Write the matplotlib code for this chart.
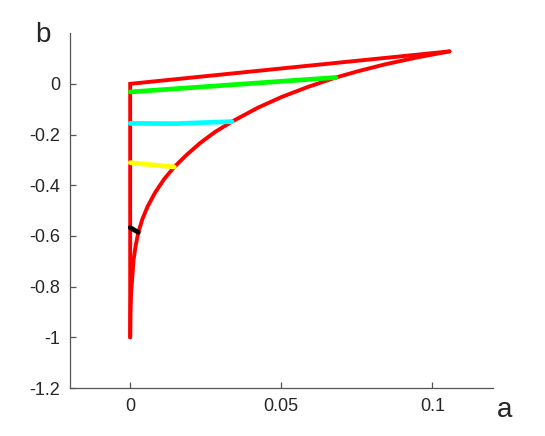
import numpy as np
import matplotlib.pyplot as plt

plt.rcParams['font.family'] = ['Liberation Sans', 'DejaVu Sans']

# red outline: vertical edge, upper straight edge, then curved edge back down
edge_a = [0.0, 0.0, 0.1057]
edge_b = [-1.0, 0.0, 0.128]
curve_a = [0.1057, 0.0949, 0.0844, 0.0755, 0.0681, 0.0589, 0.0501, 0.0423,
           0.0337, 0.0282, 0.0232, 0.0188, 0.0146, 0.0113, 0.0083, 0.0058,
           0.0040, 0.0027, 0.0018, 0.0011, 0.0007, 0.0003, 0.0001, 0.0]
curve_b = [0.128, 0.104, 0.077, 0.050, 0.025, -0.012, -0.052, -0.094,
           -0.149, -0.189, -0.233, -0.279, -0.328, -0.375, -0.428, -0.483,
           -0.535, -0.586, -0.640, -0.696, -0.762, -0.827, -0.90, -1.0]

# coloured level lines
green_a = [0.0, 0.0681]
green_b = [-0.032, 0.025]
cyan_a = [0.0, 0.015, 0.0337]
cyan_b = [-0.156, -0.157, -0.149]
yellow_a = [0.0, 0.0146]
yellow_b = [-0.311, -0.328]
black_a = [0.0, 0.0027]
black_b = [-0.567, -0.586]

xticks = [0, 0.05, 0.1]
xticklabels = ['0', '0.05', '0.1']
yticks = [-1.2, -1, -0.8, -0.6, -0.4, -0.2, 0]
yticklabels = ['-1.2', '-1', '-0.8', '-0.6', '-0.4', '-0.2', '0']

fig = plt.figure(figsize=(5.45, 4.36), dpi=100)
ax = fig.add_axes([0.128, 0.110, 0.776, 0.814])

ax.plot(edge_a, edge_b, color='#ff0000', lw=2.8, solid_capstyle='round', solid_joinstyle='miter')
ax.plot(curve_a, curve_b, color='#ff0000', lw=2.8, solid_capstyle='round', solid_joinstyle='round')
ax.plot(green_a, green_b, color='#00ff00', lw=3.4, solid_capstyle='round')
ax.plot(cyan_a, cyan_b, color='#00ffff', lw=3.4, solid_capstyle='round')
ax.plot(yellow_a, yellow_b, color='#ffff00', lw=3.4, solid_capstyle='round')
ax.plot(black_a, black_b, color='black', lw=3.4, solid_capstyle='round')

ax.set_xlim(-0.02, 0.12)
ax.set_ylim(-1.2, 0.2)
ax.set_xticks(xticks)
ax.set_xticklabels(xticklabels)
ax.set_yticks(yticks)
ax.set_yticklabels(yticklabels)

for s in ['top', 'right']:
    ax.spines[s].set_visible(False)
for s in ['left', 'bottom']:
    ax.spines[s].set_color('#555555')
    ax.spines[s].set_linewidth(0.9)
ax.tick_params(direction='in', length=4, width=0.9, color='#555555',
               labelcolor='#262626', labelsize=13, pad=7)

ax.text(1.029, -0.062, 'a', transform=ax.transAxes, fontsize=20,
        color='#262626', ha='center', va='center')
ax.text(-0.064, 0.994, 'b', transform=ax.transAxes, fontsize=20,
        color='#262626', ha='center', va='center')

fig.savefig('out.png', dpi=100)
